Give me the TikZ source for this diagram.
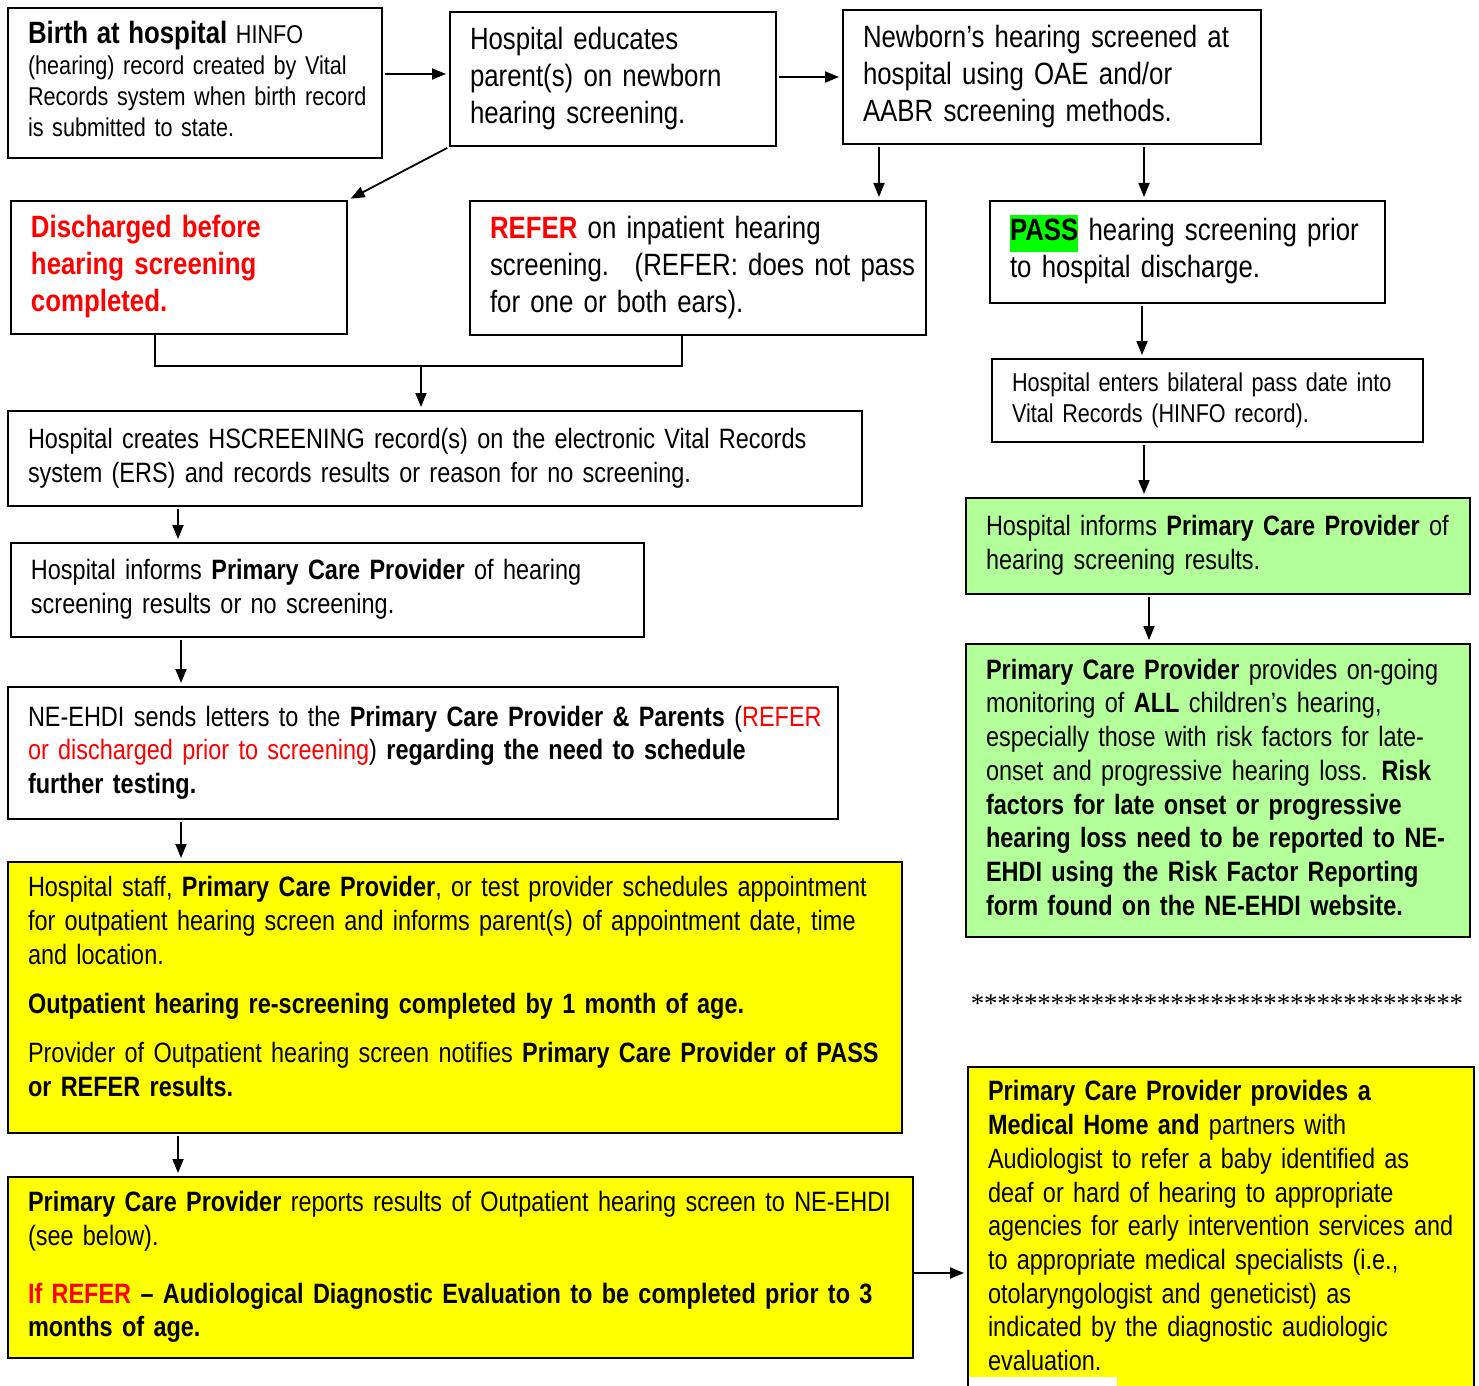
\documentclass[tikz,border=0pt]{standalone}
\usepackage{fontspec}
\setmainfont[FakeStretch=0.838,WordSpace=0.9]{Liberation Sans}
\newfontfamily\starfont{Liberation Serif}
\usetikzlibrary{arrows.meta,calc}
\definecolor{redt}{RGB}{255,0,0}
\definecolor{yel}{RGB}{255,255,0}
\definecolor{lgreen}{RGB}{179,255,153}
\definecolor{passg}{RGB}{0,255,0}
\newcommand\tl[1]{\begin{tabular}{@{}l@{}}#1\end{tabular}}
\newcommand\passhl{{\setlength\fboxsep{0pt}\colorbox{passg}{\strut\textbf{PASS}}}}
\begin{document}
\begin{tikzpicture}[x=0.5pt,y=-0.5pt,
  box/.style={draw, line width=1pt, anchor=north west, inner xsep=10pt, inner ysep=2pt, align=left, font=\fontsize{14}{16.85}\selectfont},
  big/.style={font=\fontsize{15.4}{18.5}\selectfont},
  small/.style={font=\fontsize{12.9}{15.5}\selectfont},
  arr/.style={line width=0.9pt, -{Triangle[length=7pt,width=5.5pt]}, shorten >=1.5pt, shorten <=1pt},
  ln/.style={line width=0.9pt}]
\useasboundingbox (0,0) rectangle (1479,1386);

% left/top column
\node[box,small,minimum height=75pt,text width=167pt] (birth) at (7,7)
  {\tl{\textbf{\fontsize{15.4}{15.5}\selectfont Birth at hospital} HINFO\\(hearing) record created by Vital\\Records system when birth record\\is submitted to state.}};
\node[box,big,minimum height=67pt,text width=143pt] (edu) at (449,11)
  {\tl{Hospital educates\\parent(s) on newborn\\hearing screening.}};
\node[box,big,minimum height=67pt,text width=189pt] (news) at (842,9)
  {\tl{Newborn’s hearing screened at\\hospital using OAE and/or\\AABR screening methods.}};
\node[box,big,minimum height=66.5pt,text width=148pt] (dis) at (10,200)
  {\color{redt}\bfseries\tl{Discharged before\\hearing screening\\completed.}};
\node[box,big,minimum height=67pt,text width=208pt] (refer) at (469,200)
  {\tl{{\color{redt}\textbf{REFER}} on inpatient hearing\\screening.~ (REFER: does not pass\\for one or both ears).}};
\node[box,big,minimum height=51pt,text width=177.5pt] (pass) at (989,200)
  {\tl{\passhl{} hearing screening prior\\to hospital discharge.}};
\node[box,small,minimum height=41.5pt,text width=195.5pt] (enters) at (991,358)
  {\tl{Hospital enters bilateral pass date into\\Vital Records (HINFO record).}};
\node[box,minimum height=47.5pt,text width=407pt] (creates) at (7,410)
  {\tl{Hospital creates HSCREENING record(s) on the electronic Vital Records\\system (ERS) and records results or reason for no screening.}};
\node[box,minimum height=47pt,text width=296.5pt] (inf) at (10,542)
  {\tl{Hospital informs \textbf{Primary Care Provider} of hearing\\screening results or no screening.}};
\node[box,minimum height=66pt,text width=395pt] (ne) at (7,686)
  {\tl{NE-EHDI sends letters to the \textbf{Primary Care Provider \& Parents} ({\color{redt}REFER}\\{\color{redt}or discharged prior to screening}) \textbf{regarding the need to schedule}\\\textbf{further testing.}}};
\node[box,fill=yel,minimum height=135.5pt,text width=427pt] (y1) at (7,861)
  {\tl{Hospital staff, \textbf{Primary Care Provider}, or test provider schedules appointment\\for outpatient hearing screen and informs parent(s) of appointment date, time\\and location.\\[7.5pt]\textbf{Outpatient hearing re-screening completed by 1 month of age.}\\[8pt]Provider of Outpatient hearing screen notifies \textbf{Primary Care Provider of PASS}\\\textbf{or REFER results.}\\[7.5pt]}};
\node[box,fill=yel,minimum height=90.5pt,text width=432.5pt] (y2) at (7,1176)
  {\tl{\textbf{Primary Care Provider} reports results of Outpatient hearing screen to NE-EHDI\\(see below).\\[12pt]{\color{redt}\textbf{If REFER}} \textbf{– Audiological Diagnostic Evaluation to be completed prior to 3}\\\textbf{months of age.}}};

% right column
\node[box,fill=lgreen,minimum height=48pt,text width=232pt] (g1) at (965,497)
  {\tl{Hospital informs \textbf{Primary Care Provider} of\\hearing screening results.}};
\node[box,fill=lgreen,minimum height=146.5pt,text width=232pt] (g2) at (965,643)
  {\tl{\textbf{Primary Care Provider} provides on-going\\monitoring of \textbf{ALL} children’s hearing,\\especially those with risk factors for late-\\onset and progressive hearing loss. \textbf{Risk}\\\textbf{factors for late onset or progressive}\\\textbf{hearing loss need to be reported to NE-}\\\textbf{EHDI using the Risk Factor Reporting}\\\textbf{form found on the NE-EHDI website.}}};
\node[font=\starfont\fontsize{13.5}{13.5}\selectfont, inner sep=0pt] (stars) at (1217,1004)
  {\foreach \i in {1,...,37}{\makebox[6.65pt]{*}}};
\node[box,fill=yel,minimum height=162pt,text width=233pt] (yr) at (967,1066)
  {\tl{\textbf{Primary Care Provider provides a}\\\textbf{Medical Home and} partners with\\Audiologist to refer a baby identified as\\deaf or hard of hearing to appropriate\\agencies for early intervention services and\\to appropriate medical specialists (i.e.,\\otolaryngologist and geneticist) as\\indicated by the diagnostic audiologic\\evaluation.}};
\fill[white] (969,1377) rectangle (1117,1395);

% connectors
\draw[arr] ([yshift=4.5pt]birth.east) coordinate (t) -- (t -| edu.west);
\draw[arr] ([yshift=1pt]edu.east) coordinate (t) -- (t -| news.west);
\draw[arr] (edu.south west) -- (dis.north east);
\draw[arr] ([xshift=18.5pt]news.south west) coordinate (t) -- (t |- refer.north);
\draw[arr] ([xshift=151pt]news.south west) coordinate (t) -- (t |- pass.north);
\draw[arr] ([xshift=76.5pt]pass.south west) coordinate (t) -- (t |- enters.north);
\draw[arr] ([xshift=76.5pt]enters.south west) coordinate (t) -- (t |- g1.north);
\draw[arr] ([xshift=92pt]g1.south west) coordinate (t) -- (t |- g2.north);
\coordinate (bl) at (155,366);
\coordinate (br) at (682,366);
\coordinate (bj) at (421,367);
\draw[ln] (dis.south -| bl) -- (bl) -- (br) -- (refer.south -| br);
\draw[arr, shorten <=0pt] (bj) -- (bj |- creates.north);
\draw[arr] ([xshift=85.5pt]creates.south west) coordinate (t) -- (t |- inf.north);
\draw[arr] ([xshift=85.5pt]inf.south west) coordinate (t) -- (t |- ne.north);
\draw[arr] ([xshift=87pt]ne.south west) coordinate (t) -- (t |- y1.north);
\draw[arr] ([xshift=85.5pt]y1.south west) coordinate (t) -- (t |- y2.north);
\draw[arr, shorten <=0pt] ([yshift=-2.75pt]y2.east) coordinate (t) -- (t -| yr.west);
\end{tikzpicture}
\end{document}
